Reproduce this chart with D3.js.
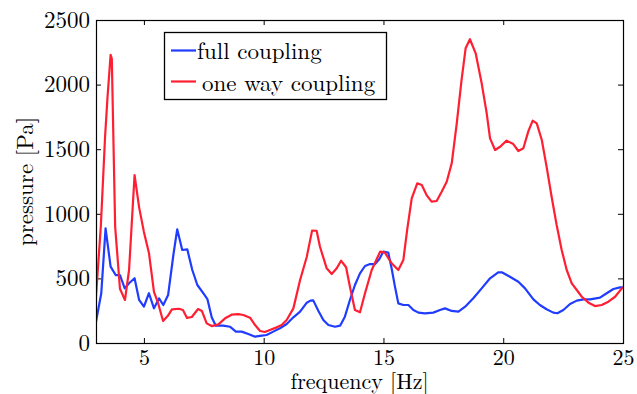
<!DOCTYPE html>
<html><head><meta charset="utf-8">
<script src="https://cdn.jsdelivr.net/npm/d3@7"></script>
<style>body{margin:0;background:#fff}svg{display:block}</style>
</head><body><svg id="c" width="637" height="394"></svg>
<script>
const xTicks = [5, 10, 15, 20, 25];
const yTicks = [0, 500, 1000, 1500, 2000, 2500];
const seriesNames = ["full coupling", "one way coupling"];

const fullFreq = [3.0,3.22,3.40,3.61,3.82,4.0,4.20,4.38,4.61,4.80,5.0,5.21,5.42,5.63,5.81,6.01,6.23,6.39,6.60,6.81,7.02,7.23,7.50,7.65,7.83,8.0,8.31,8.59,8.84,9.08,9.36,9.64,9.92,10.12,10.40,10.68,10.96,11.24,11.52,11.80,11.95,12.07,12.28,12.49,12.70,12.98,13.19,13.39,13.60,13.81,14.02,14.23,14.44,14.65,14.83,14.99,15.20,15.34,15.48,15.62,15.83,16.04,16.25,16.46,16.73,17.08,17.36,17.57,17.85,18.13,18.41,18.75,19.10,19.45,19.79,19.94,20.28,20.63,20.91,21.26,21.53,21.81,22.09,22.26,22.51,22.79,23.07,23.35,23.63,24.04,24.32,24.60,24.88,25.0];
const fullP = [165,385,888,591,526,526,423,462,501,333,281,385,268,346,294,371,681,880,720,725,565,449,380,340,200,134,134,126,88,88,70,49,57,62,88,114,147,199,243,312,328,330,250,178,139,126,134,204,333,449,539,596,611,611,650,707,700,578,436,307,294,294,255,235,230,235,255,268,248,243,281,346,423,501,547,547,513,474,423,338,294,261,235,230,255,302,328,338,338,351,385,418,431,431];

const oneFreq = [3.0,3.20,3.38,3.48,3.61,3.66,3.80,4.0,4.21,4.38,4.61,4.80,5.0,5.21,5.42,5.59,5.80,6.0,6.17,6.46,6.63,6.80,7.0,7.26,7.42,7.62,7.83,8.11,8.39,8.66,8.94,9.15,9.43,9.64,9.85,10.05,10.26,10.54,10.75,10.96,11.24,11.52,11.80,12.02,12.21,12.35,12.63,12.84,13.05,13.23,13.44,13.60,13.81,14.02,14.23,14.51,14.86,15.06,15.34,15.62,15.83,15.99,16.18,16.41,16.60,16.80,17.01,17.22,17.43,17.64,17.85,18.06,18.26,18.43,18.61,18.85,19.10,19.31,19.45,19.66,19.87,20.14,20.42,20.63,20.84,21.05,21.23,21.40,21.61,21.81,22.02,22.23,22.44,22.65,22.86,23.07,23.28,23.56,23.83,24.11,24.39,24.67,24.95,25.0];
const oneP = [360,900,1600,1900,2230,2200,900,420,333,565,1300,1050,860,697,395,310,170,210,260,265,255,194,201,263,248,152,131,144,191,219,224,217,196,139,93,85,100,121,139,178,268,488,668,870,869,745,578,534,578,637,586,436,255,238,385,565,707,699,617,565,642,875,1120,1236,1223,1145,1094,1099,1171,1248,1391,1700,2035,2281,2351,2242,2010,1778,1584,1494,1519,1566,1540,1486,1507,1640,1721,1700,1571,1365,1132,913,720,565,462,410,358,312,286,294,320,358,423,430];

const colors = ["#1f3cff", "#ff1f33"];
const FONT = '"Latin Modern Roman"';
const L = 96, R = 623, T = 20, B = 343;
const svg = d3.select("#c");
const x = d3.scaleLinear().domain([3, 25]).range([L, R]);
const y = d3.scaleLinear().domain([0, 2500]).range([B, T]);
const fs = 23;

const gB = svg.append("g").attr("transform", `translate(0,${B})`)
  .call(d3.axisBottom(x).tickValues(xTicks).tickFormat(d3.format("d")).tickSizeInner(-5).tickSizeOuter(0).tickPadding(6));
const gL = svg.append("g").attr("transform", `translate(${L},0)`)
  .call(d3.axisLeft(y).tickValues(yTicks).tickFormat(d3.format("d")).tickSizeInner(-5).tickSizeOuter(0).tickPadding(6));
const gT = svg.append("g").attr("transform", `translate(0,${T})`)
  .call(d3.axisTop(x).tickValues(xTicks).tickSizeInner(-5).tickSizeOuter(0).tickFormat(""));
const gR = svg.append("g").attr("transform", `translate(${R},0)`)
  .call(d3.axisRight(y).tickValues(yTicks).tickSizeInner(-5).tickSizeOuter(0).tickFormat(""));
[gB, gL, gT, gR].forEach(g => {
  g.attr("font-family", FONT).attr("font-size", fs);
  g.select(".domain").remove();
  g.selectAll("line").attr("stroke", "#000");
  g.selectAll("text").attr("fill", "#000");
});
gB.attr("font-size", 22);

const lineGen = d3.line().x(d => x(d[0])).y(d => y(d[1]));
svg.append("clipPath").attr("id", "clip").append("rect").attr("x", L).attr("y", T).attr("width", R - L).attr("height", B - T);
const data = [fullFreq.map((f, i) => [f, fullP[i]]), oneFreq.map((f, i) => [f, oneP[i]])];
svg.append("g").attr("clip-path", "url(#clip)").selectAll("path").data(data).join("path")
  .attr("d", lineGen).attr("fill", "none").attr("stroke", (d, i) => colors[i]).attr("stroke-width", 2.2).attr("stroke-linejoin", "round");

svg.append("rect").attr("x", L + 0.5).attr("y", T + 0.5).attr("width", R - L).attr("height", B - T)
  .attr("fill", "none").attr("stroke", "#000").attr("stroke-width", 1.2);

svg.append("text").attr("x", (L + R) / 2).attr("y", 389).attr("text-anchor", "middle")
  .attr("font-family", FONT).attr("font-size", 22).attr("fill", "#000").text("frequency [Hz]");
svg.append("text").attr("transform", `translate(33,${(T + B) / 2}) rotate(-90)`).attr("text-anchor", "middle")
  .attr("font-family", FONT).attr("font-size", fs).attr("fill", "#000").text("pressure [Pa]");

const lg = svg.append("g");
lg.append("rect").attr("x", 164.5).attr("y", 32.5).attr("width", 222).attr("height", 67).attr("fill", "#fff").attr("stroke", "#000").attr("stroke-width", 1.3);
const rows = [{y: 50.5, tx: 197, ty: 58.5}, {y: 81.5, tx: 202, ty: 90.5}];
rows.forEach((r, i) => {
  lg.append("line").attr("x1", 171).attr("x2", 196).attr("y1", r.y).attr("y2", r.y).attr("stroke", colors[i]).attr("stroke-width", 2.2);
  lg.append("text").attr("x", r.tx).attr("y", r.ty).attr("font-family", FONT).attr("font-size", fs).attr("fill", "#000").text(seriesNames[i]);
});
</script></body></html>
